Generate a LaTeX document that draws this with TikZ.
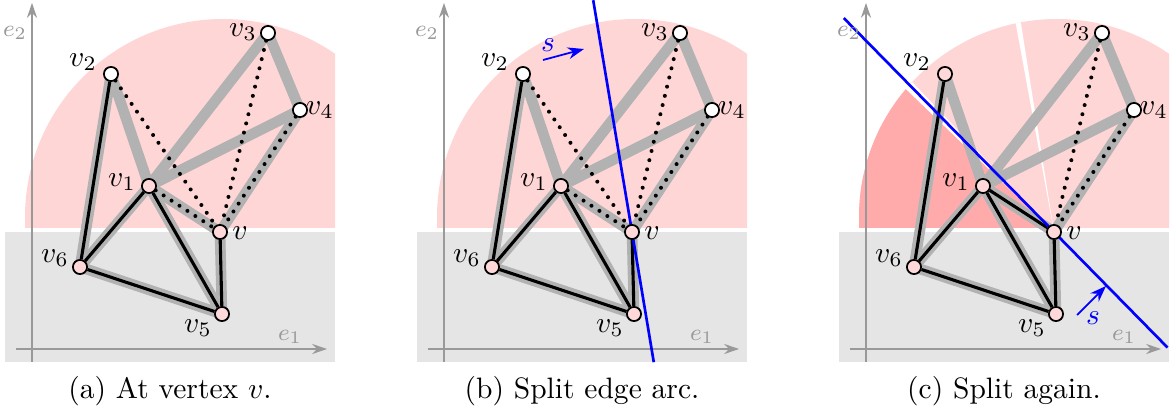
\documentclass[tikz,border=0pt]{standalone}
\usepackage{xcolor}
\usepackage{tikz}
\usetikzlibrary{arrows.meta,calc}
\usepackage{amsmath,amssymb}

\colorlet{nodepink}{red!15}
\colorlet{lightpink}{red!16}
\colorlet{darkpink}{red!33}
\colorlet{edgegray}{black!30}
\colorlet{axisgray}{black!40}
\colorlet{v2a}{white}
\colorlet{v2b}{white}
\colorlet{v2c}{nodepink}

\pgfdeclarelayer{back}
\pgfdeclarelayer{mid}
\pgfsetlayers{back,mid,main}

\newcommand{\pinkshape}{(25,187) -- (25,198) arc[start angle=180, end angle=0, radius=198] -- (421,187) -- cycle}

\begin{document}
\begin{tikzpicture}[x=0.0119cm, y=0.0119cm,
		vtx/.style={circle, draw, line width=0.6pt, inner sep=0pt, minimum size=4.8pt},
		lbl/.style={inner sep=0pt},
		thickgray/.style={edgegray, line width=3.6pt},
		edge/.style={black, line width=1.05pt},
		dots/.style={black, line width=1.35pt, line cap=round, dash pattern=on 0pt off 3.2pt},
		axis/.style={axisgray, line width=0.45pt, -{Stealth[length=5pt, width=3.4pt]}},
		axlbl/.style={axisgray, font=\footnotesize, inner sep=0pt},
		split/.style={blue, line width=0.9pt},
		sarrow/.style={blue, line width=0.6pt, -{Stealth[length=5.5pt, width=4pt]}}]

	\useasboundingbox (0,0) rectangle (1173,415);

	% 三个子图的公共部分
	\foreach \p/\dx/\cap in {a/0/{At vertex $v$.}, b/412/{Split edge arc.}, c/834/{Split again.}} {
			\begin{scope}[shift={(\dx,0)}]
				% 顶点和标签
				\foreach \n/\x/\y/\lx/\ly/\c/\t in {1/149/229/-27/4/nodepink/$v_1$, 2/111/341/-28/12/v2\p/$v_2$,
						3/268/382/-25/1/white/$v_3$, 4/300/305/20/0/white/$v_4$, 5/222/101/-24/-14/nodepink/$v_5$,
						6/80/148/-25/9/nodepink/$v_6$, 0/220/183/20/-1/nodepink/$v$} {
						\node[vtx, fill=\c] (\p v\n) at (\x,\y) {};
						\node[lbl] (\p l\n) at (\x+\lx,\y+\ly) {\t};
					}
				\node[axlbl] (\p e2) at (15,382) {$e_2$};
				\node[axlbl] (\p e1) at (290,78) {$e_1$};
				\node[anchor=base] (\p cap) at (170,16) {(\p) \cap};

				% 坐标轴和边
				\begin{pgfonlayer}{mid}
					\draw[axis] (32,53) -- (32,412);
					\draw[axis] (16,66) -- (327,66);
					\foreach \i/\j in {1/2, 1/3, 1/4, 3/4, 4/0, 1/0, 2/6, 6/1, 6/5, 1/5, 0/5}
					\draw[thickgray] (\p v\i.center) -- (\p v\j.center);
					\foreach \i/\j in {2/6, 6/1, 6/5, 1/5, 0/5}
					\draw[edge] (\p v\i) -- (\p v\j);
					\foreach \i/\j in {3/0, 4/0}
					\draw[dots] (\p v\i) -- (\p v\j);
				\end{pgfonlayer}

				% 背景: 灰色下半平面, 粉色半圆
				\begin{pgfonlayer}{back}
					\fill[black!10] (5,53) rectangle (335,183);
					\begin{scope}
						\clip (5,187) rectangle (335,415);
						\fill[lightpink] \pinkshape;
					\end{scope}
				\end{pgfonlayer}
			\end{scope}
		}

	% (a)(b): v2-v, v1-v 点线; (c): v1-v 实线
	\begin{pgfonlayer}{mid}
		\foreach \p in {a,b} {
				\draw[dots] (\p v2) -- (\p v0);
				\draw[dots] (\p v1) -- (\p v0);
			}
		\draw[edge] (cv1) -- (cv0);
	\end{pgfonlayer}

	% (c): 粉色扇形再次分割
	\begin{pgfonlayer}{back}
		\begin{scope}[shift={(834,0)}]
			\clip (5,187) rectangle (335,415);
			\clip \pinkshape;
			\fill[darkpink] (cv0.center) -- +(180:500) -- +(136:500) -- cycle;
			\fill[white] (cv0.center) -- +(136:500) -- +(133.4:500) -- cycle;
			\fill[white] (cv0.center) -- +(100.4:500) -- +(99:500) -- cycle;
		\end{scope}
	\end{pgfonlayer}

	% 分割线 s
	\begin{pgfonlayer}{mid}
		\draw[split] ($(bv0)+(99.5:235)$) -- ($(bv0)+(-80.5:132)$);
		\draw[split] ($(cv0)+(134.5:300)$) -- ($(cv0)+(-45.5:162)$);
	\end{pgfonlayer}
	\draw[sarrow] (543,355) -- (584,366);
	\node[blue] (bs) at (548,370) {$s$};
	\draw[sarrow] (1077,100) -- (1106,129);
	\node[blue] (cs) at (1093,97) {$s$};
\end{tikzpicture}
\end{document}
